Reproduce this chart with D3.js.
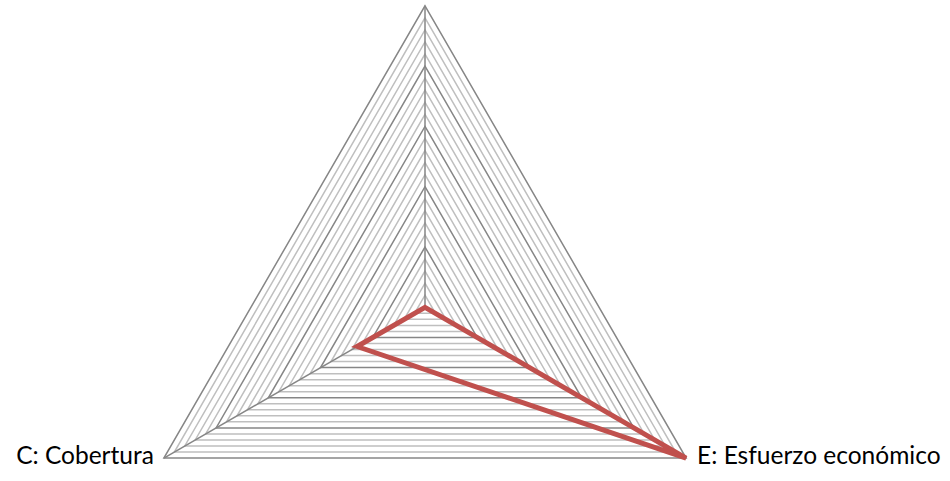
<!DOCTYPE html>
<html>
<head>
<meta charset="utf-8">
<script src="https://cdn.jsdelivr.net/npm/d3@7"></script>
<style>
  body { margin: 0; background: #fff; }
  svg { display: block; }
</style>
</head>
<body>
<svg id="chart"></svg>
<script>
// axes go clockwise starting at the top
const categories = ["", "E: Esfuerzo económico", "C: Cobertura"];
const values = [0, 5, 1.3];
const maxValue = 5;
const majorStep = 1;
const minorStep = 0.2;

const width = 950;
const height = 481;
const cx = 425;
const cy = 307.3;
const radius = 301.5;

const svg = d3.select("#chart")
  .attr("width", width)
  .attr("height", height);

const r = d3.scaleLinear()
  .domain([0, maxValue])
  .range([0, radius]);

const angle = d3.scaleLinear()
  .domain([0, categories.length])
  .range([-Math.PI / 2, 1.5 * Math.PI]);

function pt(i, v) {
  const a = angle(i);
  return [cx + r(v) * Math.cos(a), cy + r(v) * Math.sin(a)];
}

const line = d3.line().curve(d3.curveLinearClosed);

// grid rings, minor first so majors sit on top
const ringValues = d3.range(1, Math.round(maxValue / minorStep) + 1).map(k => +(k * minorStep).toFixed(4));
const isMajor = v => Math.abs(v / majorStep - Math.round(v / majorStep)) < 1e-6;

svg.append("g")
  .selectAll("path")
  .data(ringValues.filter(v => !isMajor(v)))
  .join("path")
  .attr("d", v => line(categories.map((c, i) => pt(i, v))))
  .attr("fill", "none")
  .attr("stroke", "#bfbfbf")
  .attr("stroke-width", 1.5);

svg.append("g")
  .selectAll("path")
  .data(ringValues.filter(isMajor))
  .join("path")
  .attr("d", v => line(categories.map((c, i) => pt(i, v))))
  .attr("fill", "none")
  .attr("stroke", "#868686")
  .attr("stroke-width", 1.5);

// spokes
svg.append("g")
  .selectAll("line")
  .data(categories)
  .join("line")
  .attr("x1", cx)
  .attr("y1", cy)
  .attr("x2", (d, i) => pt(i, maxValue)[0])
  .attr("y2", (d, i) => pt(i, maxValue)[1])
  .attr("stroke", "#868686")
  .attr("stroke-width", 1.5);

// series
svg.append("path")
  .attr("d", line(values.map((v, i) => pt(i, v))))
  .attr("fill", "none")
  .attr("stroke", "#c0504d")
  .attr("stroke-width", 5)
  .attr("stroke-linejoin", "miter");

// category labels
svg.append("g")
  .selectAll("text")
  .data(categories)
  .join("text")
  .attr("x", (d, i) => {
    const p = pt(i, maxValue);
    const c = Math.cos(angle(i));
    return p[0] + (c > 0.1 ? 11 : c < -0.1 ? -10 : 0);
  })
  .attr("y", (d, i) => pt(i, maxValue)[1])
  .attr("dy", "0.25em")
  .attr("text-anchor", (d, i) => {
    const c = Math.cos(angle(i));
    return c > 0.1 ? "start" : c < -0.1 ? "end" : "middle";
  })
  .style("font-family", "Lato, 'Open Sans', sans-serif")
  .style("font-size", "24.5px")
  .attr("fill", "#000")
  .text(d => d);
</script>
</body>
</html>
